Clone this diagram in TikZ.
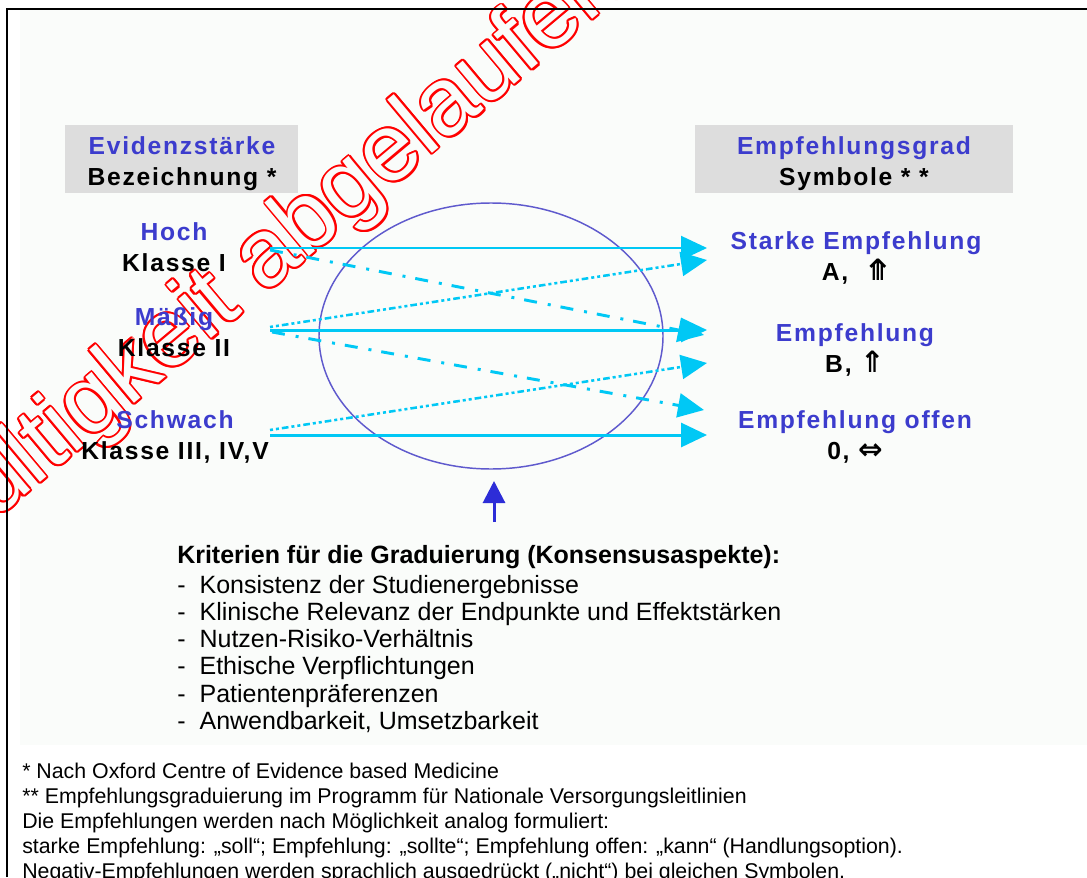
\documentclass[tikz,border=0pt]{standalone}
\usepackage{fontspec}
\setmainfont{Liberation Sans}
\newfontfamily\spacedfont[LetterSpace=7]{Liberation Sans}
\newfontfamily\symfont{DejaVu Sans}
\usetikzlibrary{arrows.meta,shapes.geometric}
\definecolor{mylabelblue}{RGB}{60,60,205}
\definecolor{myarrowcyan}{RGB}{0,200,245}
\definecolor{myringblue}{RGB}{95,90,205}
\definecolor{mypointerblue}{RGB}{45,45,215}
\definecolor{myboxgray}{RGB}{221,221,221}
\definecolor{mypanel}{RGB}{250,252,250}
\definecolor{mystampred}{RGB}{255,0,0}
\newcommand{\headfont}{\fontsize{18.5}{23}\selectfont\spacedfont\bfseries}
\newcommand{\gradefont}{\fontsize{18.5}{23}\selectfont\spacedfont\bfseries}
\newcommand{\twoline}[2]{{\color{mylabelblue}#1}\\#2}
\newcommand{\sym}[1]{{\fontsize{22}{23}\selectfont\symfont #1}}
\newcommand{\stamptext}{Gültigkeit abgelaufen}
\tikzset{
    common/.style={align=center, inner sep=0pt},
    headbox/.style={fill=myboxgray, inner sep=0pt, minimum height=51pt},
    grade/.style={common, font=\gradefont},
    ring/.style={draw=myringblue, line width=1.1pt, ellipse, inner sep=0pt,
        minimum width=258pt, minimum height=199.5pt},
    flow/.style={draw=myarrowcyan, -{Triangle[length=19.5pt, width=18pt]}},
    solidflow/.style={flow, line width=2.25pt},
    dotflow/.style={flow, line width=1.9pt,
        dash pattern=on 2.25pt off 2.25pt on 2.25pt off 2.25pt on 5pt off 2.25pt},
    dashflow/.style={flow, line width=2.2pt,
        dash pattern=on 9.75pt off 8.25pt on 2.25pt off 7.5pt},
    pointer/.style={draw=mypointerblue, line width=2.25pt,
        -{Triangle[length=16.5pt, width=16.5pt]}},
    crit/.style={inner sep=0pt, align=left, font=\fontsize{18.75}{20.4}\selectfont},
    note/.style={inner sep=0pt, align=left, font=\fontsize{16}{18.75}\selectfont},
    stamp/.style={inner sep=0pt, anchor=base west, rotate=40,
        font=\fontsize{72}{72}\selectfont}
}

\begin{document}
\begin{tikzpicture}[x=0.75pt, y=-0.75pt]
    \useasboundingbox (0,0) rectangle (1087,877);
    % panel and frame
    \fill[mypanel] (20,10) rectangle (1087,745);

    % stamp: red rim made of shifted copies, hollow inside
    \foreach \a in {0,30,...,330}
        \node[stamp, text=mystampred, xshift={1.5pt*cos(\a)}, yshift={1.5pt*sin(\a)}] at (-63,569) {\stamptext};
    \node[stamp, text=mypanel] (abgelaufen) at (-63,569) {\stamptext};

    \draw[line width=1.5pt] (7,877) -- (7,9) -- (1087,9);

    % column heads
    \node[headbox, minimum width=174.75pt] (evidenzbox) at (181.5,159) {};
    \node[headbox, minimum width=238.5pt] (gradbox) at (854,159) {};
    \node[grade] (evidenz) at (182,163.5) {\twoline{Evidenzstärke}{Bezeichnung *}};
    \node[grade] (grad) at (854,163.5) {\twoline{Empfehlungsgrad}{Symbole * *}};

    % levels of evidence
    \node[grade] (hoch) at (174,247) {\twoline{Hoch}{Klasse I}};
    \node[grade] (maessig) at (174,332) {\twoline{Mäßig}{Klasse II}};
    \node[grade] (schwach) at (175,437) {\twoline{Schwach}{Klasse III, IV,V}};

    % grades of recommendation
    \node[grade] (starke) at (856,258) {\twoline{Starke Empfehlung}{A,\ \ \sym{⤊}}};
    \node[grade] (empf) at (855,350) {\twoline{Empfehlung}{B, \sym{⇑}}};
    \node[grade] (offen) at (855,437) {\twoline{Empfehlung offen}{0, \sym{⇔}}};

    \node[ring] (konsens) at (491,336) {};

    % arrow ends
    \coordinate (hochA) at (270,248);
    \coordinate (hochB) at (270,250);
    \coordinate (maessigA) at (270,330);
    \coordinate (maessigB) at (270,327);
    \coordinate (maessigC) at (272,332);
    \coordinate (schwachA) at (270,435);
    \coordinate (schwachB) at (270,430);
    \coordinate (starkeA) at (707,248);
    \coordinate (starkeB) at (707,260);
    \coordinate (empfA) at (707,330);
    \coordinate (empfB) at (707,363);
    \coordinate (empfC) at (704,335);
    \coordinate (offenA) at (707,435);
    \coordinate (offenB) at (704,410);

    \draw[solidflow, line width=1.5pt] (hochA) -- (starkeA);
    \draw[dashflow] (hochB) -- (empfC);
    \draw[dotflow] (maessigB) -- (starkeB);
    \draw[solidflow] (maessigA) -- (empfA);
    \draw[dashflow] (maessigC) -- (offenB);
    \draw[dotflow] (schwachB) -- (empfB);
    \draw[solidflow] (schwachA) -- (offenA);

    % criteria
    \coordinate (pointerTail) at (494,522);
    \coordinate (pointerTip) at (494,481);
    \draw[pointer] (pointerTail) -- (pointerTip);
    \node[crit, anchor=base west] (kriterien) at (177,563) {\textbf{Kriterien für die Graduierung (Konsensusaspekte):}};
    \node[crit, anchor=north west] (aspekte) at (177,575) {%
        -\hspace{10.5pt}Konsistenz der Studienergebnisse\\
        -\hspace{10.5pt}Klinische Relevanz der Endpunkte und Effektstärken\\
        -\hspace{10.5pt}Nutzen-Risiko-Verhältnis\\
        -\hspace{10.5pt}Ethische Verpflichtungen\\
        -\hspace{10.5pt}Patientenpräferenzen\\
        -\hspace{10.5pt}Anwendbarkeit, Umsetzbarkeit};

    % footnotes
    \node[note, anchor=north west] (fussnoten) at (22,763) {%
        * Nach Oxford Centre of Evidence based Medicine\\
        ** Empfehlungsgraduierung im Programm für Nationale Versorgungsleitlinien\\
        Die Empfehlungen werden nach Möglichkeit analog formuliert:\\
        starke Empfehlung: „soll“; Empfehlung: „sollte“; Empfehlung offen: „kann“ (Handlungsoption).\\
        Negativ-Empfehlungen werden sprachlich ausgedrückt („nicht“) bei gleichen Symbolen.};
\end{tikzpicture}
\end{document}
